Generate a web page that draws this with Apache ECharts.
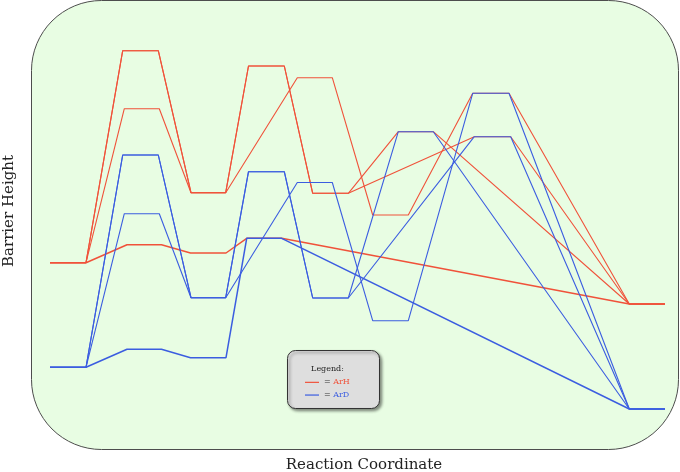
<!DOCTYPE html>
<html>
<head>
<meta charset="utf-8">
<script src="https://cdn.jsdelivr.net/npm/echarts@6/dist/echarts.min.js"></script>
<style>
html,body{margin:0;padding:0;background:#ffffff;}
#chart{width:680px;height:472px;}
</style>
</head>
<body>
<div id="chart"></div>
<script>
// States along the reaction coordinate
const stateNames = ['R', 'TS1a', 'TS1b', 'M1c', 'I1', 'I1c', 'TS2a', 'TS2b', 'TS2c', 'I2a', 'I2b', 'TS3a', 'TS3b', 'TS3c', 'P'];
const stateStart = [0, 72.7, 74.3, 77, 141, 140.5, 198.5, 247.3, 196.7, 262.7, 322.7, 348.3, 424.3, 422.7, 579.3];
const stateEnd   = [36, 108.3, 109.3, 111.5, 175.7, 176, 234.3, 282.3, 231.7, 298.3, 358.3, 383.3, 460.7, 459, 615];
// Barrier heights (arbitrary units)
const energyArH = [146.3, 358.3, 300.3, 164.3, 216.3, 156, 343, 331.3, 170.7, 215.7, 194, 277.3, 272.3, 315.7, 105];
const energyArD = [41.7, 254, 195.3, 59.7, 111.3, 51.3, 237.3, 226.5, 170.7, 111, 88.3, 277.3, 272.3, 315.7, 0];
// Reaction paths (sequences of states)
const pathMain1 = ['R', 'TS1a', 'I1', 'TS2a', 'I2a', 'TS3a', 'P'];
const pathMain2 = ['R', 'TS1b', 'I1', 'TS2a', 'I2a', 'TS3b', 'P'];
const pathMain3 = ['R', 'TS1a', 'I1', 'TS2b', 'I2b', 'TS3c', 'P'];
const pathLow   = ['R', 'M1c', 'I1c', 'TS2c', 'P'];
const paths = [pathMain1, pathMain2, pathMain3, pathLow];
const speciesNames = ['ArH', 'ArD'];
const speciesColors = ['#f0523a', '#3b5de0'];
const speciesEnergies = [energyArH, energyArD];

function pathData(path, energies) {
  const pts = [];
  path.forEach(function (s) {
    const i = stateNames.indexOf(s);
    pts.push([stateStart[i], energies[i]]);
    pts.push([stateEnd[i], energies[i]]);
  });
  return pts;
}

const series = [];
speciesNames.forEach(function (name, k) {
  paths.forEach(function (p, j) {
    series.push({
      type: 'line',
      name: name,
      data: pathData(p, speciesEnergies[k]),
      symbol: 'none',
      clip: false,
      silent: true,
      z: 2 + k,
      lineStyle: { color: speciesColors[k], width: p === pathLow ? 1.5 : 1.1 },
      itemStyle: { color: speciesColors[k] }
    });
  });
});

const chart = echarts.init(document.getElementById('chart'), null, { renderer: 'canvas' });
chart.setOption({
  animation: false,
  backgroundColor: '#ffffff',
  grid: { left: 50, top: 9, width: 615, height: 400 },
  xAxis: { type: 'value', min: 0, max: 615, show: false },
  yAxis: { type: 'value', min: 0, max: 400, show: false },
  legend: {
    data: speciesNames,
    orient: 'vertical',
    left: 305,
    top: 376,
    padding: 0,
    icon: 'rect',
    itemWidth: 14,
    itemHeight: 1.2,
    itemGap: 0,
    z: 20,
    selectedMode: false,
    textStyle: {
      fontFamily: 'DejaVu Serif',
      fontSize: 8,
      lineHeight: 12.7,
      color: '#333',
      rich: {
        h: { color: speciesColors[0], fontFamily: 'DejaVu Serif', fontSize: 8, lineHeight: 12.7 },
        d: { color: speciesColors[1], fontFamily: 'DejaVu Serif', fontSize: 8, lineHeight: 12.7 }
      }
    },
    formatter: function (name) {
      return '= {' + (name === 'ArH' ? 'h' : 'd') + '|' + name + '}';
    }
  },
  graphic: [
    {
      type: 'rect', z: -10, silent: true,
      shape: { x: 31.5, y: 0.5, width: 647, height: 449, r: 70 },
      style: { fill: '#e8fde3', stroke: '#4d4d4d', lineWidth: 1 }
    },
    {
      type: 'rect', z: 10, silent: true,
      shape: { x: 287.5, y: 350.5, width: 92, height: 58, r: 8 },
      style: { fill: '#dedede', stroke: '#333333', lineWidth: 1,
        shadowBlur: 3, shadowOffsetX: 2, shadowOffsetY: 2, shadowColor: 'rgba(0,0,0,0.45)' }
    },
    {
      type: 'text', z: 11, silent: true, x: 327.5, y: 369,
      style: { text: 'Legend:', fill: '#222', font: '8px "DejaVu Serif"', align: 'center', verticalAlign: 'middle' }
    },
    {
      type: 'text', silent: true, x: 364, y: 465,
      style: { text: 'Reaction Coordinate', fill: '#222', font: '15px "DejaVu Serif"', align: 'center', verticalAlign: 'middle' }
    },
    {
      type: 'text', silent: true, x: 9, y: 211, rotation: Math.PI / 2,
      style: { text: 'Barrier Height', fill: '#222', font: '15px "DejaVu Serif"', align: 'center', verticalAlign: 'middle' }
    }
  ],
  series: series
});
</script>
</body>
</html>
